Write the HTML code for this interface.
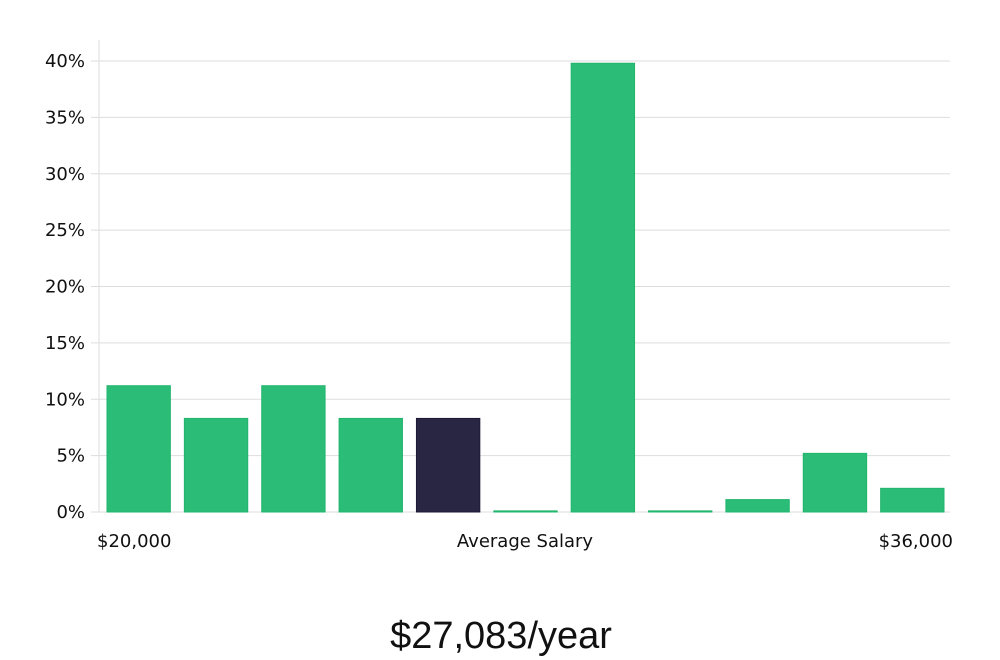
<!DOCTYPE html>
<html><head><meta charset="utf-8"><style>
html,body{margin:0;padding:0;background:#fff;width:1000px;height:660px;overflow:hidden}
svg{display:block}
text{font-family:"DejaVu Sans","Liberation Sans",sans-serif;fill:#111}
</style></head><body>
<svg id="chart" width="1000" height="660" xmlns="http://www.w3.org/2000/svg">
<g id="grid"></g><g id="bars"></g><g id="ylabels"></g>
<line x1="99" y1="40" x2="99" y2="512" stroke="#ddd" stroke-width="1"/>
<text x="97" y="547" font-size="18">$20,000</text>
<text x="525" y="547" font-size="18" text-anchor="middle">Average Salary</text>
<text x="953" y="547" font-size="18" text-anchor="end">$36,000</text>
<text x="501" y="648" font-size="38" text-anchor="middle" style="font-family:'Liberation Sans',sans-serif;font-weight:300" fill="#111">$27,083/year</text>
</svg>
<script>
const categories=["b1","b2","b3","b4","b5","b6","b7","b8","b9","b10","b11"];
const values=[11.2,8.3,11.2,8.3,8.3,0.1,39.8,0.1,1.1,5.2,2.1];
const highlight=[false,false,false,false,true,false,false,false,false,false,false];
const yTicks=[0,5,10,15,20,25,30,35,40];
const yTickLabels=["0%","5%","10%","15%","20%","25%","30%","35%","40%"];
const NS="http://www.w3.org/2000/svg";
const x0=99,x1=950,y0=512,yTop=61;
const y=v=>y0-(v/40)*(y0-yTop);
const band=(x1-x0)/categories.length;
const grid=document.getElementById('grid'),bars=document.getElementById('bars'),yl=document.getElementById('ylabels');
yTicks.forEach((t,i)=>{
 const l=document.createElementNS(NS,'line');
 l.setAttribute('x1',x0-8);l.setAttribute('x2',x1);l.setAttribute('y1',y(t));l.setAttribute('y2',y(t));
 l.setAttribute('stroke','#ddd');l.setAttribute('stroke-width','1');
 
 
 grid.appendChild(l);
 const tx=document.createElementNS(NS,'text');
 tx.setAttribute('x',85);tx.setAttribute('y',y(t)+6);tx.setAttribute('text-anchor','end');tx.setAttribute('font-size','18');
 tx.textContent=yTickLabels[i];
 
 
 yl.appendChild(tx);
});
values.forEach((v,i)=>{
 const r=document.createElementNS(NS,'rect');
 const h=Math.max(1,y0-y(v));
 r.setAttribute('x',x0+i*band+8);r.setAttribute('width',band-14);
 r.setAttribute('y',y0-h);r.setAttribute('height',h);
 r.setAttribute('fill',highlight[i]?'#292644':'#2bbd77');
 r.setAttribute('stroke',highlight[i]?'#1d1a36':'#22b56c');r.setAttribute('stroke-width','1');
 
 
 bars.appendChild(r);
});
</script>
</body></html>
